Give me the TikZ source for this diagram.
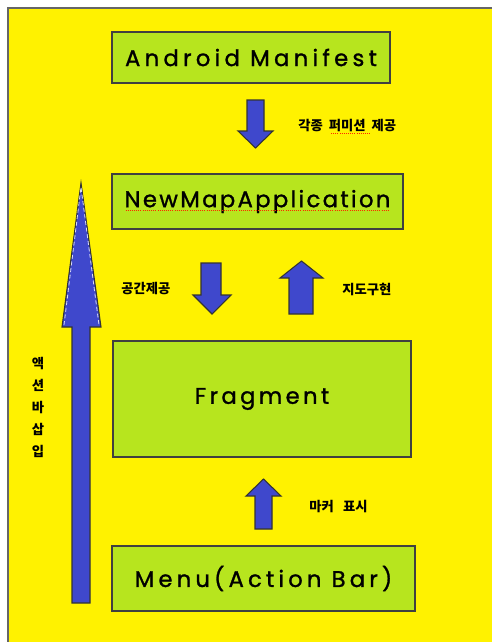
\documentclass[tikz,border=0pt]{standalone}
\usepackage{fontspec}
\newfontfamily\boxfont[LetterSpace=15,FakeBold=1.2]{Poppins}
\newfontfamily\kofont{Noto Sans CJK KR}
\definecolor{sheet}{RGB}{255,242,0}
\definecolor{boxgreen}{RGB}{183,229,30}
\definecolor{arrowblue}{RGB}{63,72,204}
\tikzset{
  box/.style={draw=black!75, line width=1.1pt, fill=boxgreen, inner sep=0pt,
    font=\boxfont\fontsize{17}{17}\selectfont},
  blockarrow/.style={draw=black!80, line width=0.8pt, fill=arrowblue, line join=miter},
  note/.style={font=\kofont\bfseries\fontsize{10}{10}\selectfont, inner sep=0pt},
  squiggle/.style={red!70!orange, densely dotted, line width=0.6pt}
}
\begin{document}
\begin{tikzpicture}[x=0.75pt,y=-0.75pt]
  \useasboundingbox (0,0) rectangle (492,642);
  % sheet
  \fill[sheet] (8,8) rectangle (492,642);
  \draw[black!60, line width=1pt] (8,642) -- (8,8) -- (492,8);
  % boxes
  \node[box, minimum width=278*0.75pt, minimum height=51*0.75pt] (manifest) at (251,57.5) {\addfontfeature{LetterSpace=19}Android Manifest};
  \node[box, minimum width=291*0.75pt, minimum height=55*0.75pt] (app) at (257.5,201.5) {\addfontfeature{LetterSpace=10.5}NewMapApplication};
  \node[box, minimum width=298*0.75pt, minimum height=116*0.75pt] (fragment) at (262,399) {Fragment};
  \node[box, minimum width=303*0.75pt, minimum height=65*0.75pt] (menu) at (263.5,578.5) {\addfontfeature{LetterSpace=18.5}Menu(Action Bar)};
  % block arrows
  \draw[blockarrow] (247,100) -- (264,100) -- (264,131) -- (273,131) -- (255.5,148) -- (238,131) -- (247,131) -- cycle;
  \draw[blockarrow] (201,263) -- (221,263) -- (221,295) -- (231,295) -- (212,314) -- (193,295) -- (201,295) -- cycle;
  \draw[blockarrow] (289,314) -- (313,314) -- (313,278) -- (323,278) -- (301.5,261) -- (280,278) -- (289,278) -- cycle;
  \draw[blockarrow] (255,529) -- (272,529) -- (272,496) -- (281,496) -- (263.5,479) -- (246,496) -- (255,496) -- cycle;
  \draw[blockarrow] (72,603) -- (90,603) -- (90,327) -- (101,327) -- (81,183) -- (62,327) -- (72,327) -- cycle;
  \draw[white!80!arrowblue, dashed, dash pattern=on 3pt off 2pt, line width=0.6pt] (64,325) -- (81,187) -- (99,325);
  % labels
  \node[note, anchor=west] (perm) at (298,126) {각종\hspace{4.5pt}퍼미션\hspace{4.5pt}제공};
  \node[note, anchor=west] (space) at (121,289) {공간제공};
  \node[note, anchor=west] (map) at (342,289) {지도구현};
  \node[note, anchor=west] (marker) at (309,507) {마커\hspace{7pt}표시};
  \node[note, align=center, font=\kofont\bfseries\fontsize{10}{16.5}\selectfont] (actionbar) at (38,407) {액\\션\\바\\삽\\입};
  % spell-check marks
  \draw[squiggle] ([xshift=24.75pt,yshift=-5.5pt]perm.west) -- ([xshift=54pt,yshift=-5.5pt]perm.west);
  \draw[squiggle] ([xshift=-99pt,yshift=-7pt]app.center) -- ([xshift=98pt,yshift=-7pt]app.center);
\end{tikzpicture}
\end{document}
